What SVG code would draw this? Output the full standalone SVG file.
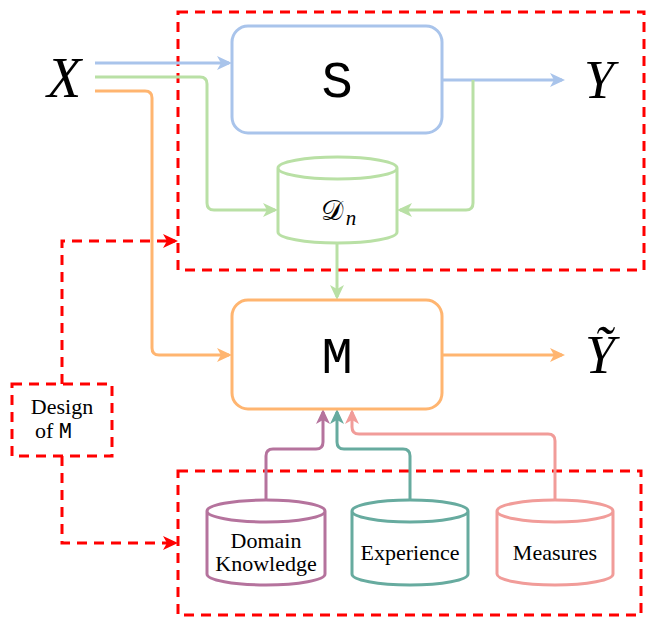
<svg xmlns="http://www.w3.org/2000/svg" width="648" height="619" viewBox="0 0 648 619">
  <style>
    .frame { fill: none; stroke: #ff0000; stroke-width: 3; stroke-dasharray: 10 7; }
    .box { fill: #ffffff; stroke-width: 3; }
    .wire { fill: none; stroke-width: 3; }
  </style>
  <defs>
    <marker id="ah-blue" viewBox="0 0 15 14" refX="12" refY="7" markerWidth="15" markerHeight="14" markerUnits="userSpaceOnUse" orient="auto">
      <path d="M0,0 L15,7 L0,14 L4,7 z" fill="#a9c4eb"/>
    </marker>
    <marker id="ah-green" viewBox="0 0 15 14" refX="12" refY="7" markerWidth="15" markerHeight="14" markerUnits="userSpaceOnUse" orient="auto">
      <path d="M0,0 L15,7 L0,14 L4,7 z" fill="#b9e0a5"/>
    </marker>
    <marker id="ah-orange" viewBox="0 0 15 14" refX="12" refY="7" markerWidth="15" markerHeight="14" markerUnits="userSpaceOnUse" orient="auto">
      <path d="M0,0 L15,7 L0,14 L4,7 z" fill="#ffb570"/>
    </marker>
    <marker id="ah-purple" viewBox="0 0 15 14" refX="12" refY="7" markerWidth="15" markerHeight="14" markerUnits="userSpaceOnUse" orient="auto">
      <path d="M0,0 L15,7 L0,14 L4,7 z" fill="#b5739d"/>
    </marker>
    <marker id="ah-teal" viewBox="0 0 15 14" refX="12" refY="7" markerWidth="15" markerHeight="14" markerUnits="userSpaceOnUse" orient="auto">
      <path d="M0,0 L15,7 L0,14 L4,7 z" fill="#67ab9f"/>
    </marker>
    <marker id="ah-pink" viewBox="0 0 15 14" refX="12" refY="7" markerWidth="15" markerHeight="14" markerUnits="userSpaceOnUse" orient="auto">
      <path d="M0,0 L15,7 L0,14 L4,7 z" fill="#f19c99"/>
    </marker>
    <marker id="ah-red" viewBox="0 0 15 14" refX="12" refY="7" markerWidth="15" markerHeight="14" markerUnits="userSpaceOnUse" orient="auto">
      <path d="M0,0 L15,7 L0,14 L4,7 z" fill="#ff0000"/>
    </marker>
  </defs>

  <rect width="648" height="619" fill="#ffffff"/>

  <!-- dashed grouping frames -->
  <g id="frame-system">
    <rect class="frame" x="178" y="12" width="466" height="258"/>
  </g>
  <g id="frame-knowledge">
    <rect class="frame" x="178" y="471" width="463" height="144"/>
  </g>

  <!-- connectors -->
  <g id="connectors">
    <path class="wire" stroke="#a9c4eb" d="M95,63 H229" marker-end="url(#ah-blue)"/>
    <path class="wire" stroke="#a9c4eb" d="M443,80 H562" marker-end="url(#ah-blue)"/>
    <path class="wire" stroke="#b9e0a5" d="M95,77 H200 Q207,77 207,84 V203 Q207,210 214,210 H275" marker-end="url(#ah-green)"/>
    <path class="wire" stroke="#b9e0a5" d="M473,80 V203 Q473,210 466,210 H400" marker-end="url(#ah-green)"/>
    <path class="wire" stroke="#b9e0a5" d="M337,243 V297" marker-end="url(#ah-green)"/>
    <path class="wire" stroke="#ffb570" d="M95,91 H145 Q152,91 152,98 V348 Q152,355 159,355 H229" marker-end="url(#ah-orange)"/>
    <path class="wire" stroke="#ffb570" d="M443,355 H562" marker-end="url(#ah-orange)"/>
    <path class="wire" stroke="#b5739d" d="M266,500 V456 Q266,449 273,449 H316 Q323,449 323,442 V412" marker-end="url(#ah-purple)"/>
    <path class="wire" stroke="#67ab9f" d="M410,500 V456 Q410,449 403,449 H344 Q337,449 337,442 V412" marker-end="url(#ah-teal)"/>
    <path class="wire" stroke="#f19c99" d="M555,500 V441 Q555,434 548,434 H359 Q352,434 352,427 V412" marker-end="url(#ah-pink)"/>
    <path class="wire" stroke="#ff0000" stroke-dasharray="10 7" d="M62,384 V241 H175" marker-end="url(#ah-red)"/>
    <path class="wire" stroke="#ff0000" stroke-dasharray="10 7" d="M62,456 V543 H175" marker-end="url(#ah-red)"/>
  </g>

  <!-- input / output symbols -->
  <g id="node-X">
    <text x="64" y="97" font-family="Liberation Serif, serif" font-style="italic" font-size="56" text-anchor="middle">X</text>
  </g>
  <g id="node-Y">
    <text x="599" y="98" font-family="Liberation Serif, serif" font-style="italic" font-size="54" text-anchor="middle">Y</text>
  </g>
  <g id="node-Ytilde">
    <text x="600" y="373" font-family="Liberation Serif, serif" font-style="italic" font-size="54" text-anchor="middle">Ỹ</text>
  </g>

  <!-- system S -->
  <g id="node-S">
    <rect class="box" stroke="#a9c4eb" x="232" y="26" width="210" height="107" rx="16"/>
    <text x="337" y="97" font-family="Liberation Mono, monospace" font-size="52" text-anchor="middle">S</text>
  </g>

  <!-- dataset D_n -->
  <g id="node-Dn">
    <path class="box" stroke="#b9e0a5" d="M278,168 A59.5,11 0 0 1 397,168 A59.5,11 0 0 1 278,168 V232 A59.5,11 0 0 0 397,232 V168"/>
    <text x="332" y="220" font-family="DejaVu Serif, serif" font-size="28" text-anchor="middle">𝒟</text>
    <text x="351" y="225" font-family="Liberation Serif, serif" font-style="italic" font-size="21" text-anchor="middle">n</text>
  </g>

  <!-- model M -->
  <g id="node-M">
    <rect class="box" stroke="#ffb570" x="232" y="300" width="210" height="109" rx="16"/>
    <text x="337" y="373" font-family="Liberation Mono, monospace" font-size="52" text-anchor="middle">M</text>
  </g>

  <!-- design annotation -->
  <g id="node-design" font-family="Liberation Serif, serif" font-size="22">
    <rect class="frame" x="12" y="384" width="100" height="72"/>
    <text x="62" y="414" text-anchor="middle">Design</text>
    <text x="35" y="438">of <tspan font-family="Liberation Mono, monospace">M</tspan></text>
  </g>

  <!-- knowledge sources -->
  <g id="node-domain" font-family="Liberation Serif, serif" font-size="22">
    <path class="box" stroke="#b5739d" d="M207,511 A59,11 0 0 1 325,511 A59,11 0 0 1 207,511 V574 A59,11 0 0 0 325,574 V511"/>
    <text x="266" y="548" text-anchor="middle">Domain</text>
    <text x="266" y="571" text-anchor="middle">Knowledge</text>
  </g>
  <g id="node-experience" font-family="Liberation Serif, serif" font-size="22">
    <path class="box" stroke="#67ab9f" d="M352,511 A58,11 0 0 1 468,511 A58,11 0 0 1 352,511 V574 A58,11 0 0 0 468,574 V511"/>
    <text x="410" y="560" text-anchor="middle">Experience</text>
  </g>
  <g id="node-measures" font-family="Liberation Serif, serif" font-size="22">
    <path class="box" stroke="#f19c99" d="M497,511 A58,11 0 0 1 613,511 A58,11 0 0 1 497,511 V574 A58,11 0 0 0 613,574 V511"/>
    <text x="555" y="560" text-anchor="middle">Measures</text>
  </g>
</svg>
